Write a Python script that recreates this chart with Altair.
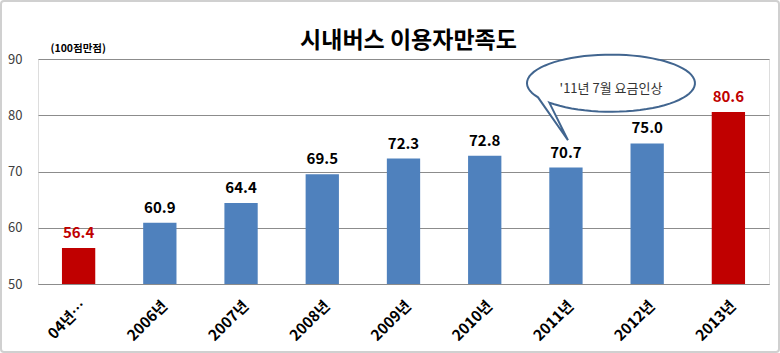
import math
import altair as alt
import pandas as pd

categories = ["04년…", "2006년", "2007년", "2008년", "2009년", "2010년", "2011년", "2012년", "2013년"]
values = [56.4, 60.9, 64.4, 69.5, 72.3, 72.8, 70.7, 75.0, 80.6]
highlight = [True, False, False, False, False, False, False, False, True]
y_ticks = [50, 60, 70, 80, 90]
title_text = "시내버스 이용자만족도"
callout_cat = "2011년"
callout_value = 85.7
callout_text = "'11년 7월 요금인상"

FONT = "Noto Sans CJK KR"
BLUE = "#4F81BD"
RED = "#C00000"

df = pd.DataFrame({"cat": categories, "val": values, "hl": highlight})

W, H = 731, 225

x = alt.X("cat:N", sort=categories, title=None,
          scale=alt.Scale(paddingInner=0.59, paddingOuter=0.295),
          axis=alt.Axis(labelAngle=-45, labelFontWeight="bold", labelFontSize=15,
                        labelColor="#000000", labelFont=FONT, ticks=False,
                        domainColor="#8C8C8C", domainWidth=1, labelPadding=14,
                        labelLimit=200))
y = alt.Y("val:Q", title="(100점만점)",
          scale=alt.Scale(domain=[50, 90], nice=False, zero=False),
          axis=alt.Axis(values=y_ticks, grid=True, gridColor="#8C8C8C", gridWidth=1,
                        domain=False, ticks=False, labelFontSize=13, labelColor="#404040",
                        labelFont=FONT, labelPadding=16,
                        titleAngle=0, titleAlign="left", titleX=12, titleY=-6,
                        titleFontSize=10.5, titleFontWeight="bold", titleFont=FONT,
                        titleColor="#000000", titleBaseline="bottom"))

bars = alt.Chart(df).mark_bar().encode(
    x=x, y=y, y2=alt.datum(50),
    color=alt.condition("datum.hl", alt.value(RED), alt.value(BLUE)))

labels = alt.Chart(df).mark_text(dy=-7, fontSize=15, fontWeight="bold", font=FONT,
                                 baseline="bottom").encode(
    x=alt.X("cat:N", sort=categories), y="val:Q", text=alt.Text("val:Q", format=".1f"),
    color=alt.condition("datum.hl", alt.value(RED), alt.value("#000000")))

# callout shape (ellipse + tail) in symbol units
cx, rx, ry = 0.536, 1.0, 0.34
base_r, base_l = 0.191, 0.024
tip = (0.024, 0.679)
def ang(px):
    return math.atan2(ry * math.sqrt(max(0.0, 1 - ((px - cx) / rx) ** 2)), px - cx)
a0 = ang(base_r)
a1 = ang(base_l)
pts = []
n = 72
start, end = a0, a1 - 2 * math.pi
for i in range(n + 1):
    t = start + (end - start) * i / n
    pts.append((cx + rx * math.cos(t), ry * math.sin(t)))
path = "M " + " L ".join(f"{px:.4f} {py:.4f}" for px, py in pts) + f" L {tip[0]} {tip[1]} Z"

cdf = pd.DataFrame({"cat": [callout_cat], "val": [callout_value], "label": [callout_text],
                    "title": [title_text]})
callout = alt.Chart(cdf).mark_point(shape=path, size=168 ** 2, filled=True, fill="white",
                                    stroke="#41658F", strokeWidth=2, opacity=1).encode(
    x=alt.X("cat:N", sort=categories), y="val:Q")
callout_lbl = alt.Chart(cdf).mark_text(dx=45, dy=6, fontSize=13, font=FONT,
                                       color="#333333").encode(
    x=alt.X("cat:N", sort=categories), y="val:Q", text="label:N")

title = alt.Chart(cdf).mark_text(fontSize=23, font=FONT, fontWeight="bold", color="#000000",
                                 baseline="middle", align="center").encode(
    x=alt.value(W / 2 + 5), y=alt.value(-18), text="title:N")

frame = alt.Chart(cdf).mark_rect(filled=False, stroke="#D0D0D0", strokeWidth=2,
                                 cornerRadius=3).encode(
    x=alt.value(-37), x2=alt.value(W + 10), y=alt.value(-58), y2=alt.value(H + 68))

chart = alt.layer(bars, labels, callout, callout_lbl, title, frame).properties(
    width=W, height=H,
    padding={"left": 38, "top": 59, "right": 11, "bottom": 69},
    autosize=alt.AutoSizeParams(type="none"),
).configure_view(stroke=None).configure(background="white")

chart.save("out.html", embed_options={"renderer": "svg", "actions": False})
